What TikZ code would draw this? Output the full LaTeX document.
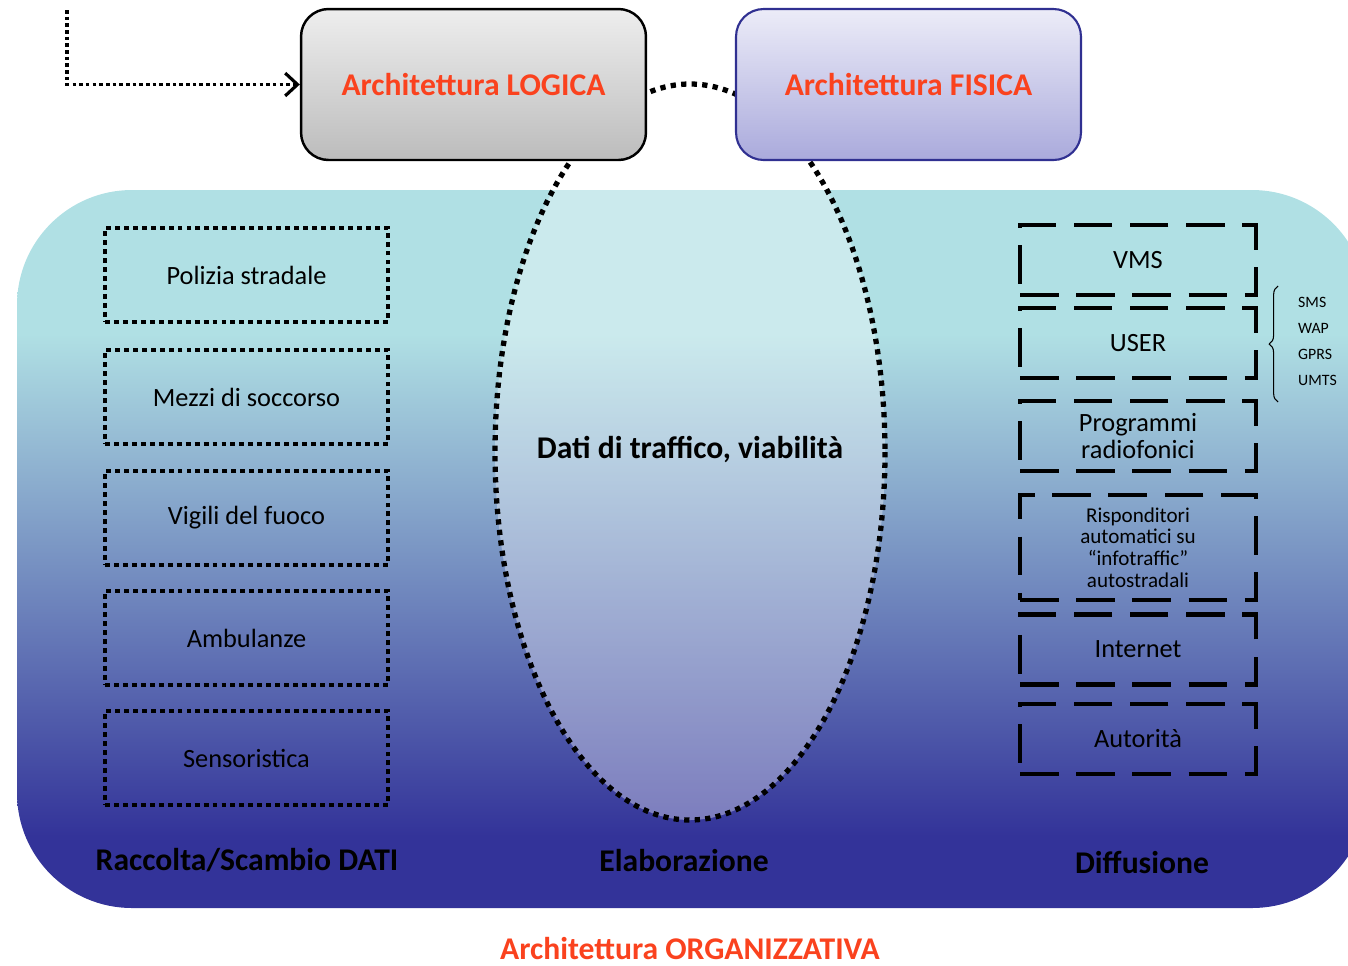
\documentclass[tikz,border=0pt]{standalone}
\usepackage{fontspec}
\setmainfont{Carlito}
\usetikzlibrary{arrows.meta,decorations.pathreplacing}
\definecolor{titlered}{RGB}{250,66,30}
\definecolor{orgtop}{RGB}{176,224,228}
\definecolor{orgbot}{RGB}{51,51,153}
\definecolor{logtop}{RGB}{238,238,238}
\definecolor{logbot}{RGB}{188,188,188}
\definecolor{fistop}{RGB}{236,236,248}
\definecolor{fisbot}{RGB}{170,170,220}
\definecolor{fisline}{RGB}{48,48,145}
\pgfdeclareverticalshading{orgshade}{100bp}{color(0bp)=(orgbot); color(30bp)=(orgbot); color(65bp)=(orgtop); color(100bp)=(orgtop)}

\begin{document}
\begin{tikzpicture}[x=0.02cm,y=-0.02cm,
        lbox/.style={draw,line width=2.8pt,dash pattern=on 2.8pt off 2.3pt,minimum width=5.66cm,minimum height=1.88cm,font=\fontsize{15}{17}\selectfont},
        rbox/.style={draw,line width=2.6pt,dash pattern=on 22pt off 10pt,minimum width=4.72cm,minimum height=1.4cm,align=center,inner sep=1pt,font=\fontsize{15}{15}\selectfont},
        head/.style={font=\fontsize{18}{20}\selectfont\bfseries},
        arch/.style={rounded corners=0.55cm,minimum width=6.9cm,minimum height=3.02cm,head,text=titlered}]
                \clip (0,0) rectangle (1348,965);
                \shade[shading=orgshade,rounded corners=2.3cm] (17,190) rectangle (1367,908);
                \draw[line width=3pt,dash pattern=on 3pt off 3pt,fill=white,fill opacity=0.35,draw opacity=1] (690,452) ellipse [x radius=195,y radius=368];
                \node (dati) at (690,450) [head] {Dati di traffico, viabilità};
                \node (logica) at (473.5,84.5) [arch,draw,line width=1.4pt,top color=logtop,bottom color=logbot] {Architettura LOGICA};
                \node (fisica) at (908.5,84.5) [arch,draw=fisline,line width=1.2pt,top color=fistop,bottom color=fisbot] {Architettura FISICA};
                \coordinate (ingresso) at (67,10);
                \draw[line width=2pt,dash pattern=on 2pt off 1.8pt,-{Straight Barb[length=7pt,width=13pt,line width=1.8pt]}] (ingresso) |- (logica);
                \node (polizia) at (246.5,275) [lbox] {Polizia stradale};
                \node (mezzi) at (246.5,397) [lbox] {Mezzi di soccorso};
                \node (vigili) at (246.5,518) [lbox] {Vigili del fuoco};
                \node (ambulanze) at (246.5,638) [lbox] {Ambulanze};
                \node (sensori) at (246.5,758) [lbox] {Sensoristica};
                \node (vms) at (1138,260) [rbox] {VMS};
                \node (user) at (1138,343) [rbox] {USER};
                \node (radio) at (1138,436) [rbox] {Programmi\\radiofonici};
                \node (risp) at (1138,547.5) [rbox,minimum height=2.1cm,font=\fontsize{12}{12.3}\selectfont] {Risponditori\\automatici su\\“infotraffic”\\autostradali};
                \node (internet) at (1138,649.5) [rbox] {Internet};
                \node (autorita) at (1138,739) [rbox] {Autorità};
                \draw[line width=0.6pt,decorate,decoration={brace,amplitude=5pt}] (1278,402) -- (1278,286);
                \node (sms) at (1292,302) [anchor=west,font=\fontsize{9}{9}\selectfont] {SMS};
                \node (wap) at (1292,328) [anchor=west,font=\fontsize{9}{9}\selectfont] {WAP};
                \node (gprs) at (1292,354) [anchor=west,font=\fontsize{9}{9}\selectfont] {GPRS};
                \node (umts) at (1292,380) [anchor=west,font=\fontsize{9}{9}\selectfont] {UMTS};
                \node (raccolta) at (247,860) [head] {Raccolta/Scambio DATI};
                \node (elaborazione) at (684,860) [head] {Elaborazione};
                \node (diffusione) at (1142,862) [head] {Diffusione};
                \node (organizzativa) at (690,948) [head,text=titlered] {Architettura ORGANIZZATIVA};
            \end{tikzpicture}
\end{document}
